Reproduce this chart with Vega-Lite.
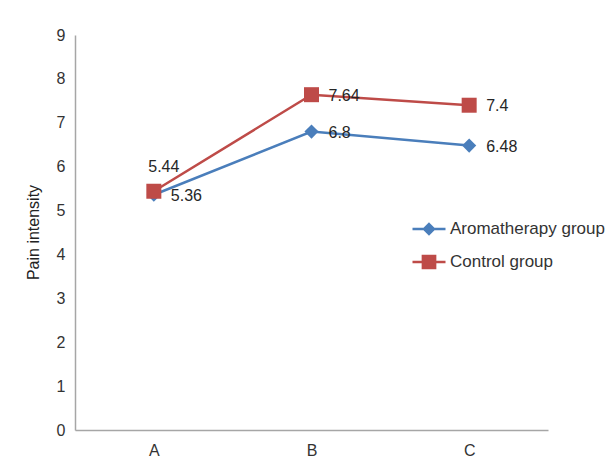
{
  "$schema": "https://vega.github.io/schema/vega-lite/v6.json",
  "width": 473,
  "height": 395,
  "autosize": {"type": "none"},
  "padding": {"left": 75, "top": 35, "right": 68, "bottom": 46},
  "background": "white",
  "config": {
    "view": {"stroke": null},
    "font": "Liberation Sans",
    "legend": {"padding": 0}
  },
  "data": {
    "values": [
      {"time": "A", "group": "Aromatherapy group", "value": 5.36},
      {"time": "B", "group": "Aromatherapy group", "value": 6.8},
      {"time": "C", "group": "Aromatherapy group", "value": 6.48},
      {"time": "A", "group": "Control group", "value": 5.44},
      {"time": "B", "group": "Control group", "value": 7.64},
      {"time": "C", "group": "Control group", "value": 7.4}
    ]
  },
  "encoding": {
    "x": {
      "field": "time", "type": "nominal",
      "scale": {"type": "point", "padding": 0.5},
      "axis": {
        "title": null, "labelAngle": 0, "ticks": false, "grid": false,
        "domainColor": "#a6a6a6", "domainWidth": 1.5,
        "labelFontSize": 16, "labelColor": "#333333", "labelPadding": 12,
        "labelFont": "Liberation Sans"
      }
    },
    "y": {
      "field": "value", "type": "quantitative",
      "scale": {"domain": [0, 9], "nice": false},
      "axis": {
        "title": "Pain intensity", "values": [0,1,2,3,4,5,6,7,8,9],
        "ticks": false, "grid": false,
        "domainColor": "#a6a6a6", "domainWidth": 1.5,
        "labelFontSize": 16, "labelColor": "#333333", "labelPadding": 10,
        "labelFont": "Liberation Sans",
        "titleFont": "Liberation Sans", "titleFontSize": 16, "titleFontWeight": "normal",
        "titleColor": "#222222", "titleX": -34, "titleY": 197
      }
    },
    "color": {"field": "group", "type": "nominal",
      "scale": {"domain": ["Aromatherapy group", "Control group"], "range": ["#4a7ebb", "#be4b48"]},
      "legend": {
        "title": null, "orient": "none", "legendX": 336, "legendY": 176,
        "symbolSize": 1089, "symbolStrokeWidth": 2.5, "rowPadding": 5,
        "labelFontSize": 17, "labelColor": "#333333", "labelOffset": 3,
        "labelFont": "Liberation Sans",
        "encode": {
          "symbols": {
            "update": {
              "shape": {"signal": "datum.value === 'Control group' ? 'M-1,0H1M-0.37,-0.37H0.37V0.37H-0.37Z' : 'M-1,0H1M0,-0.3L0.3,0L0,0.3L-0.3,0Z'"},
              "stroke": {"signal": "datum.value === 'Control group' ? '#be4b48' : '#4a7ebb'"},
              "fill": {"signal": "datum.value === 'Control group' ? '#c0504d' : '#4f81bd'"},
              "strokeWidth": {"value": 2.5},
              "size": {"value": 1089},
              "opacity": {"value": 1}
            }
          }
        }
      }
    }
  },
  "layer": [
    {
      "mark": {"type": "line", "strokeWidth": 2.5}
    },
    {
      "transform": [{"filter": "datum.group === 'Aromatherapy group'"}],
      "mark": {"type": "point", "filled": true, "opacity": 1, "shape": "diamond", "size": 200}
    },
    {
      "transform": [{"filter": "datum.group === 'Control group'"}],
      "mark": {"type": "point", "filled": true, "opacity": 1, "shape": "square", "size": 225}
    },
    {
      "transform": [{"filter": "!(datum.group === 'Control group' && datum.time === 'A')"}],
      "mark": {"type": "text", "align": "left", "baseline": "middle", "dx": 17, "dy": 1, "fontSize": 16, "font": "Liberation Sans"},
      "encoding": {
        "text": {"field": "value", "type": "quantitative"},
        "color": {"value": "#262626"}
      }
    },
    {
      "transform": [{"filter": "datum.group === 'Control group' && datum.time === 'A'"}],
      "mark": {"type": "text", "align": "center", "baseline": "middle", "dx": 10, "dy": -24, "fontSize": 16, "font": "Liberation Sans"},
      "encoding": {
        "text": {"field": "value", "type": "quantitative"},
        "color": {"value": "#262626"}
      }
    }
  ]
}
